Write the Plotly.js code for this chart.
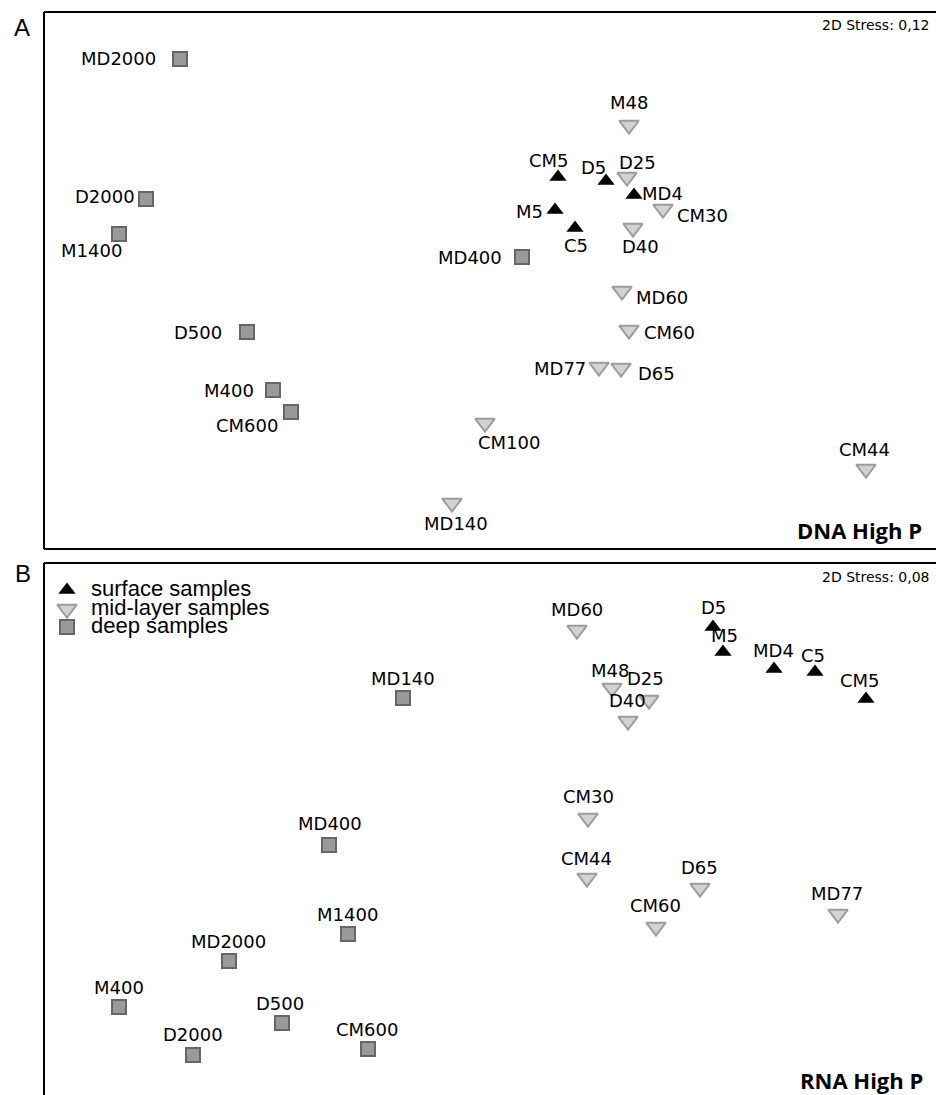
<!DOCTYPE html>
<html>
<head>
<meta charset="utf-8">
<script src="https://cdn.plot.ly/plotly-3.0.1.min.js"></script>
<style>html,body{margin:0;padding:0;background:#fff;}#chart{width:936px;height:1095px;}</style>
</head>
<body>
<div id="chart"></div>
<script>
// ---- Panel A: DNA High P (NMDS coordinates; y grows downward) ----
const namesA = ["MD2000","D2000","M1400","MD400","D500","M400","CM600","CM100","MD140","CM44","M48","CM5","D5","D25","MD4","CM30","M5","C5","D40","MD60","CM60","MD77","D65"];
const xA     = [180,146,119,522,247,273,291,485,452,866,629,558,606,627,634,663,555,575,633,622,629,599,621];
const yA     = [59,199,234,257,332,390,412,423,503,469,125,177,181,177,195,209,210,228,228,291,330,367,368];
const groupA = ["deep","deep","deep","deep","deep","deep","deep","mid","mid","mid","mid","surface","surface","mid","surface","mid","surface","surface","mid","mid","mid","mid","mid"];
// label placement (style): offset of label from its point, px
const ldxA = [-62,-41,-28,-52,-49,-44,-44,24,4,-2,0,-9,-13,10,28,39,-26,1,7,40,40,-39,35];
const ldyA = [-1,-3,16,0,0,0,13,19,20,-20,-23,-17,-14,-15,-2,6,1,17,18,6,2,1,5];

// ---- Panel B: RNA High P ----
const namesB = ["D5","MD60","M5","MD4","C5","CM5","MD140","M48","D25","D40","CM30","MD400","CM44","D65","MD77","CM60","M1400","MD2000","M400","D500","CM600","D2000"];
const xB     = [713,577,723,774,815,866,403,612,649,628,588,329,587,700,838,656,348,229,119,282,368,193];
const yB     = [627,630,652,669,672,699,698,688,700,721,818,845,878,888,914,927,934,961,1007,1023,1049,1055];
const groupB = ["surface","mid","surface","surface","surface","surface","deep","mid","mid","mid","mid","deep","mid","mid","mid","mid","deep","deep","deep","deep","deep","deep"];
const ldxB = [0,0,1,-1,-2,-6,0,-2,-4,-1,0,1,-1,-1,-1,-1,-1,-1,0,-2,-1,0];
const ldyB = [-20,-21,-17,-19,-17,-19,-20,-18,-22,-21,-22,-22,-20,-21,-21,-22,-20,-20,-20,-20,-20,-21];

const groups = ["surface","mid","deep"];
const groupLabels = ["surface samples","mid-layer samples","deep samples"];
const stressA = "2D Stress: 0,12";
const stressB = "2D Stress: 0,08";
const titleA = "DNA High P";
const titleB = "RNA High P";

const markerStyle = {
  surface: {symbol:"triangle-up", size:15, color:"#000000", line:{color:"#000000", width:0}},
  mid:     {symbol:"triangle-down", size:17, color:"#d2d2d2", line:{color:"#9c9c9c", width:2}},
  deep:    {symbol:"square", size:14, color:"#9a9a9a", line:{color:"#666666", width:2}}
};

const traces = [];
function addPanel(names, xs, ys, grp, xa, ya) {
  groups.forEach(g => {
    const idx = grp.map((v,i)=> v===g ? i : -1).filter(i=>i>=0);
    traces.push({
      type:"scatter", mode:"markers", xaxis:xa, yaxis:ya,
      x: idx.map(i=>xs[i]), y: idx.map(i=>ys[i]),
      text: idx.map(i=>names[i]), hoverinfo:"text",
      marker: markerStyle[g], showlegend:false, cliponaxis:false
    });
  });
}
addPanel(namesA, xA, yA, groupA, "x", "y");
addPanel(namesB, xB, yB, groupB, "x2", "y2");

// legend symbols (legend layout inside panel B)
const legendX = 67, legendY = [590, 609, 627], legendTextX = 89;
groups.forEach((g,i) => {
  traces.push({type:"scatter", mode:"markers", xaxis:"x2", yaxis:"y2",
    x:[legendX], y:[legendY[i]], marker: markerStyle[g], showlegend:false, hoverinfo:"skip", cliponaxis:false});
});

const labelFont = {family:"DejaVu Sans", size:18, color:"#000"};
const annotations = [];
function addLabels(names, xs, ys, ldx, ldy, xr, yr) {
  names.forEach((n,i) => {
    annotations.push({text:n, x:xs[i], y:ys[i], xref:xr, yref:yr, showarrow:false,
      xanchor:"center", yanchor:"middle", xshift:ldx[i], yshift:-ldy[i], font:labelFont});
  });
}
addLabels(namesA, xA, yA, ldxA, ldyA, "x", "y");
addLabels(namesB, xB, yB, ldxB, ldyB, "x2", "y2");

groupLabels.forEach((t,i) => {
  annotations.push({text:t, x:legendTextX, y:legendY[i]-2, xref:"x2", yref:"y2", showarrow:false,
    xanchor:"left", yanchor:"middle", font:{family:"Liberation Sans", size:22, color:"#000"}});
});

const stressFont = {family:"DejaVu Sans", size:14, color:"#000"};
annotations.push({text:stressA, x:1, xref:"paper", xanchor:"right", xshift:-4, y:25, yref:"y", yanchor:"middle", showarrow:false, font:stressFont});
annotations.push({text:stressB, x:1, xref:"paper", xanchor:"right", xshift:-4, y:577, yref:"y2", yanchor:"middle", showarrow:false, font:stressFont});
const titleFont = {family:"Open Sans", size:22, color:"#000", weight:"bold"};
annotations.push({text:"<b>"+titleA+"</b>", x:1, xref:"paper", xanchor:"right", xshift:-12, y:530, yref:"y", yanchor:"middle", showarrow:false, font:titleFont});
annotations.push({text:"<b>"+titleB+"</b>", x:1, xref:"paper", xanchor:"right", xshift:-12, y:0, yref:"paper", yanchor:"bottom", yshift:-1, borderpad:0, showarrow:false, font:titleFont});
const letterFont = {family:"Liberation Sans", size:24, color:"#000"};
annotations.push({text:"A", x:0, xref:"paper", xanchor:"center", xshift:-22, y:27, yref:"y", yanchor:"middle", showarrow:false, font:letterFont});
annotations.push({text:"B", x:0, xref:"paper", xanchor:"center", xshift:-21, y:573, yref:"y2", yanchor:"middle", showarrow:false, font:letterFont});

const H = 1095, T = 12;
const plotH = H - T;
const aBottom = (H - 549) / plotH;
const bTop = (H - 563) / plotH;

const axisBase = {visible:false, showgrid:false, zeroline:false, fixedrange:true};
const lineStyle = {color:"#000", width:2};
const shapes = [
  {type:"line", xref:"paper", yref:"paper", x0:0, x1:0, y0:aBottom, y1:1, line:lineStyle},
  {type:"line", xref:"paper", yref:"paper", x0:0, x1:1, y0:1, y1:1, line:lineStyle},
  {type:"line", xref:"paper", yref:"paper", x0:0, x1:1, y0:aBottom, y1:aBottom, line:lineStyle},
  {type:"line", xref:"paper", yref:"paper", x0:0, x1:0, y0:0, y1:bTop, line:lineStyle},
  {type:"line", xref:"paper", yref:"paper", x0:0, x1:1, y0:bTop, y1:bTop, line:lineStyle}
];

const layout = {
  width:936, height:1095,
  margin:{l:44, r:0, t:T, b:0, pad:0},
  paper_bgcolor:"#fff", plot_bgcolor:"#fff",
  showlegend:false, hovermode:false,
  xaxis: Object.assign({}, axisBase, {range:[44,936], domain:[0,1], anchor:"y"}),
  yaxis: Object.assign({}, axisBase, {range:[549,12], domain:[aBottom,1], anchor:"x"}),
  xaxis2: Object.assign({}, axisBase, {range:[44,936], domain:[0,1], anchor:"y2"}),
  yaxis2: Object.assign({}, axisBase, {range:[1095,563], domain:[0,bTop], anchor:"x2"}),
  annotations: annotations,
  shapes: shapes
};

Plotly.newPlot("chart", traces, layout, {displayModeBar:false, staticPlot:true});
</script>
</body>
</html>
